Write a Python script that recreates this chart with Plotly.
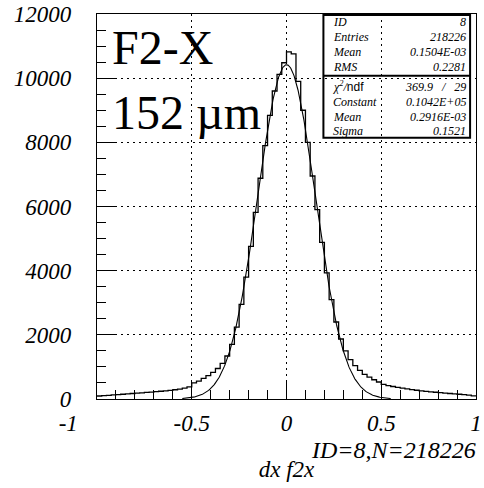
import numpy as np
import plotly.graph_objects as go

# ---- histogram: dx f2x, 80 bins on [-1, 1] ----
x_lo, x_hi, n_bins = -1.0, 1.0, 80
counts = [
    # -1.0 .. -0.525
    93, 104, 115, 126, 137, 148, 160, 172, 183, 194,
    205, 216, 228, 241, 255, 270, 288, 310, 338, 380,
    # -0.5 .. -0.025
    500, 560, 640, 730, 830, 950, 1110, 1340, 1700, 2240,
    2950, 3800, 4760, 5820, 6880, 7900, 8840, 9600, 10120, 10480,
    # 0.0 .. 0.475
    10820, 10760, 9900, 9000, 8000, 6950, 5900, 4880, 3930, 3100,
    2400, 1870, 1500, 1230, 1040, 890, 770, 680, 600, 530,
    # 0.5 .. 0.975
    455, 420, 390, 362, 336, 313, 292, 273, 256, 240,
    225, 211, 198, 185, 172, 160, 148, 134, 118, 100,
]

# ---- gaussian fit result ----
fit_const = 0.1042e5
fit_mean = 0.2916e-3
fit_sigma = 0.1521

# ---- statistics box ----
stat_labels = ["ID", "Entries", "Mean", "RMS"]
stat_values = ["8", "218226", "0.1504E-03", "0.2281"]
fit_labels = ["Constant", "Mean", "Sigma"]
fit_values = ["0.1042E+05", "0.2916E-03", "0.1521"]
chi2_text = "369.9\u00a0\u00a0\u00a0/\u00a0\u00a0\u00a029"

x_ticks = [-1, -0.5, 0, 0.5, 1]
x_ticktext = ["-1" + "\u00a0" * 10, "-0.5", "0", "0.5", "1"]
y_ticks = [0, 2000, 4000, 6000, 8000, 10000, 12000]
y_ticktext = ["0", "2000", "4000", "6000", "8000", "10000", "12000"]

W, H = 484, 488
L, R, T, B = 97, 2, 13, 89
SERIF = "Liberation Serif"


def px_x(p):
    return (p - L) / (W - L - R)


def px_y(p):
    return 1 - (p - T) / (H - T - B)


edges = np.linspace(x_lo, x_hi, n_bins + 1)
step_y = counts + [counts[-1]]

xf = np.linspace(-0.55, 0.55, 500)
yf = fit_const * np.exp(-0.5 * ((xf - fit_mean) / fit_sigma) ** 2)

fig = go.Figure()
fig.add_trace(go.Scatter(x=edges, y=step_y, mode="lines", line_shape="hv",
                         line=dict(color="black", width=1.3),
                         hoverinfo="skip", showlegend=False))
fig.add_trace(go.Scatter(x=xf, y=yf, mode="lines",
                         line=dict(color="black", width=1.1),
                         hoverinfo="skip", showlegend=False))

axis_common = dict(
    showline=True, linecolor="black", linewidth=1.2, mirror=True,
    ticks="inside", tickcolor="black", tickwidth=1, ticklen=18,
    showgrid=True, gridcolor="black", gridwidth=1, griddash="2px,4px",
    zeroline=False, ticklabeloverflow="allow",
    tickfont=dict(family=SERIF, size=23, color="black", style="italic"),
)

fig.update_xaxes(
    range=[x_lo, x_hi], tickvals=x_ticks, ticktext=x_ticktext,
    minor=dict(dtick=0.1, ticks="inside", ticklen=9, tickcolor="black", showgrid=False),
    ticklabelstandoff=3,
    title=dict(text="dx f2x", standoff=26,
               font=dict(family=SERIF, size=23, color="black", style="italic")),
    **axis_common,
)
fig.update_yaxes(
    range=[0, 12000], tickvals=y_ticks, ticktext=y_ticktext,
    minor=dict(dtick=500, ticks="inside", ticklen=9, tickcolor="black", showgrid=False),
    ticklabelstandoff=20,
    **axis_common,
)

# statistics box frame
bx0, bx1 = px_x(327), px_x(476)
by0, by1, bdiv = px_y(137), px_y(14), px_y(75)
fig.add_shape(type="rect", xref="paper", yref="paper", x0=bx0, x1=bx1, y0=by0, y1=by1,
              line=dict(color="black", width=2), fillcolor="rgba(0,0,0,0)")
fig.add_shape(type="line", xref="paper", yref="paper", x0=bx0, x1=bx1, y0=bdiv, y1=bdiv,
              line=dict(color="black", width=2))

stat_font = dict(family=SERIF, size=12, color="black", style="italic")
row_y = [21.5, 36.5, 51.5, 66.5]
for lab, val, ry in zip(stat_labels, stat_values, row_y):
    fig.add_annotation(xref="paper", yref="paper", x=px_x(335), y=px_y(ry), text=lab,
                       showarrow=False, xanchor="left", yanchor="middle", font=stat_font)
    fig.add_annotation(xref="paper", yref="paper", x=px_x(474), y=px_y(ry), text=val,
                       showarrow=False, xanchor="right", yanchor="middle", font=stat_font)

fit_rows = [101.5, 116, 130]
fig.add_annotation(xref="paper", yref="paper", x=px_x(335), y=px_y(86),
                   text="\u03c7<sup>2</sup>/<span style='font-family:Liberation Sans;font-style:normal'>ndf</span>",
                   showarrow=False, xanchor="left", yanchor="middle", font=stat_font)
fig.add_annotation(xref="paper", yref="paper", x=px_x(474), y=px_y(86), text=chi2_text,
                   showarrow=False, xanchor="right", yanchor="middle", font=stat_font)
for lab, val, ry in zip(fit_labels, fit_values, fit_rows):
    fig.add_annotation(xref="paper", yref="paper", x=px_x(335), y=px_y(ry), text=lab,
                       showarrow=False, xanchor="left", yanchor="middle", font=stat_font)
    fig.add_annotation(xref="paper", yref="paper", x=px_x(474), y=px_y(ry), text=val,
                       showarrow=False, xanchor="right", yanchor="middle", font=stat_font)

# detector plane and resolution
big_font = dict(family=SERIF, size=48, color="black")
fig.add_annotation(xref="paper", yref="paper", x=px_x(110), y=px_y(47), text="F2-X",
                   showarrow=False, xanchor="left", yanchor="middle", font=big_font)
fig.add_annotation(xref="paper", yref="paper", x=px_x(110), y=px_y(112), text="152 \u00b5m",
                   showarrow=False, xanchor="left", yanchor="middle", font=big_font)

fig.add_annotation(xref="paper", yref="paper", x=px_x(484), y=px_y(450),
                   text="ID=8,N=218226", showarrow=False, xanchor="right", yanchor="middle",
                   font=dict(family=SERIF, size=24, color="black", style="italic"))

fig.update_layout(
    width=W, height=H, margin=dict(l=L, r=R, t=T, b=B),
    paper_bgcolor="white", plot_bgcolor="white", showlegend=False,
)

fig.write_html("out.html")
